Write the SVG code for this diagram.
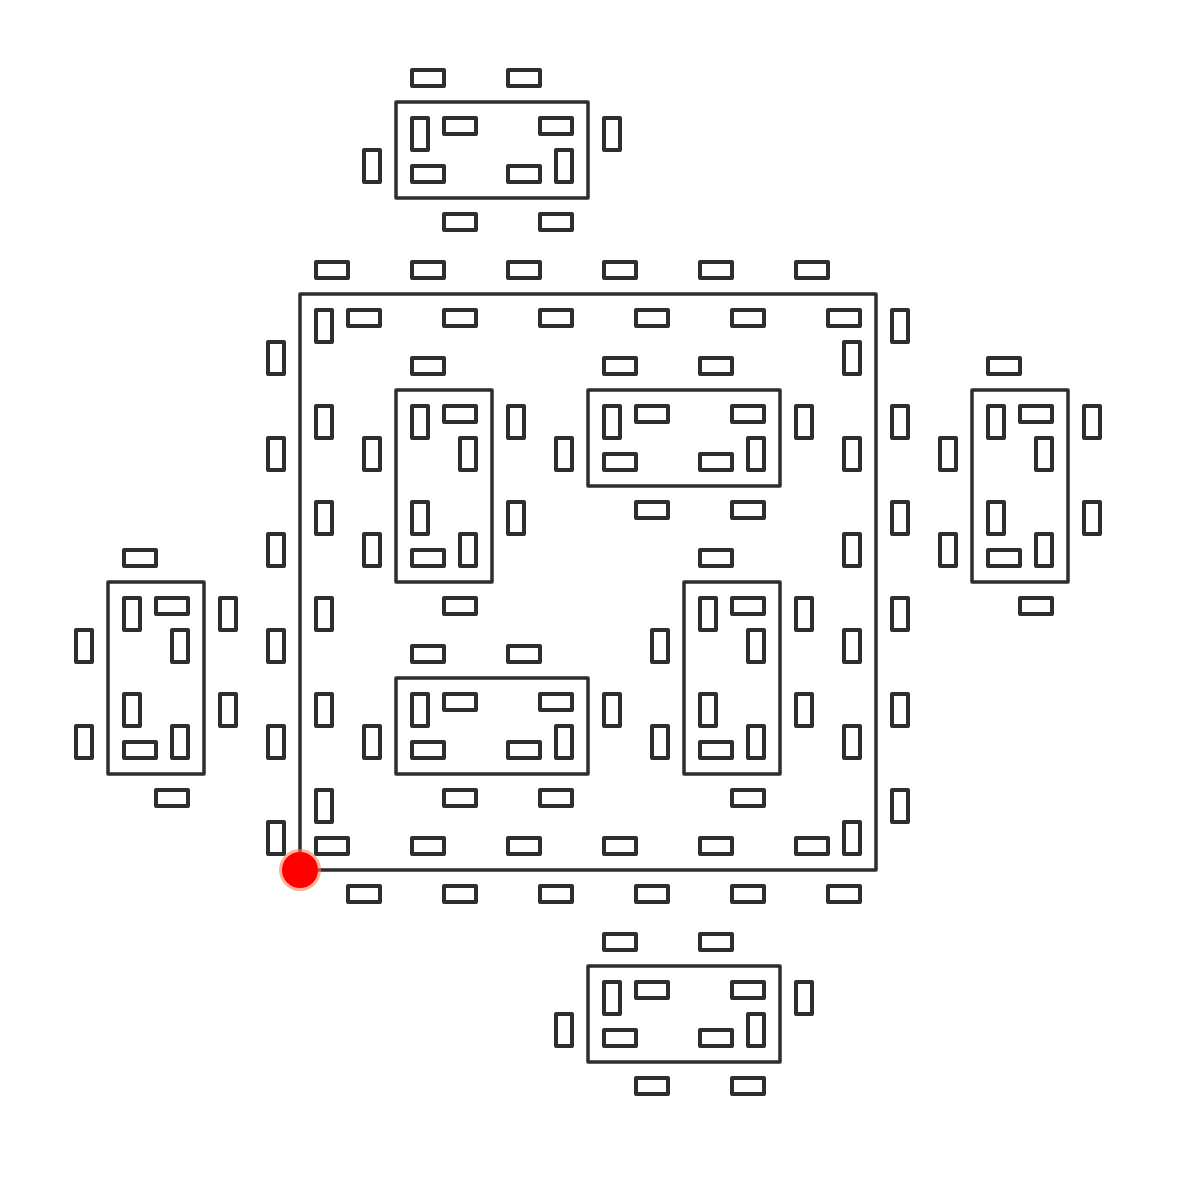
<svg xmlns="http://www.w3.org/2000/svg" xmlns:xlink="http://www.w3.org/1999/xlink" width="1200" height="1200" viewBox="0 0 1200 1200">
<style>
use { fill: none; stroke: #2e2e2e; stroke-width: 4; stroke-linejoin: round; }
.wall { fill: none; stroke: #2e2e2e; stroke-width: 3.5; stroke-linejoin: round; }
</style>
<defs>
<rect id="h" x="0" y="0" width="32" height="16"/>
<rect id="v" x="0" y="0" width="16" height="32"/>
</defs>
<rect x="0" y="0" width="1200" height="1200" style="fill:#fff;stroke:none"/>
<g id="top-cluster">
<rect class="wall" x="396" y="102" width="192" height="96"/>
<use href="#h" x="412" y="70"/><use href="#h" x="508" y="70"/>
<use href="#v" x="412" y="118"/><use href="#h" x="444" y="118"/><use href="#h" x="540" y="118"/>
<use href="#h" x="412" y="166"/><use href="#h" x="508" y="166"/><use href="#v" x="556" y="150"/>
<use href="#v" x="604" y="118"/><use href="#v" x="364" y="150"/>
<use href="#h" x="444" y="214"/><use href="#h" x="540" y="214"/>
</g>
<g id="main-square">
<rect class="wall" x="300" y="294" width="576" height="576"/>
<use href="#h" x="316" y="262"/><use href="#h" x="412" y="262"/><use href="#h" x="508" y="262"/><use href="#h" x="604" y="262"/><use href="#h" x="700" y="262"/><use href="#h" x="796" y="262"/>
<use href="#v" x="268" y="342"/><use href="#v" x="268" y="438"/><use href="#v" x="268" y="534"/><use href="#v" x="268" y="630"/><use href="#v" x="268" y="726"/><use href="#v" x="268" y="822"/>
<use href="#v" x="892" y="310"/><use href="#v" x="892" y="406"/><use href="#v" x="892" y="502"/><use href="#v" x="892" y="598"/><use href="#v" x="892" y="694"/><use href="#v" x="892" y="790"/>
<use href="#h" x="348" y="886"/><use href="#h" x="444" y="886"/><use href="#h" x="540" y="886"/><use href="#h" x="636" y="886"/><use href="#h" x="732" y="886"/><use href="#h" x="828" y="886"/>
<use href="#h" x="348" y="310"/><use href="#h" x="444" y="310"/><use href="#h" x="540" y="310"/><use href="#h" x="636" y="310"/><use href="#h" x="732" y="310"/><use href="#h" x="828" y="310"/>
<use href="#v" x="316" y="310"/><use href="#v" x="316" y="406"/><use href="#v" x="316" y="502"/><use href="#v" x="316" y="598"/><use href="#v" x="316" y="694"/><use href="#v" x="316" y="790"/>
<use href="#h" x="316" y="838"/><use href="#h" x="412" y="838"/><use href="#h" x="508" y="838"/><use href="#h" x="604" y="838"/><use href="#h" x="700" y="838"/><use href="#h" x="796" y="838"/>
<use href="#v" x="844" y="342"/><use href="#v" x="844" y="438"/><use href="#v" x="844" y="534"/><use href="#v" x="844" y="630"/><use href="#v" x="844" y="726"/><use href="#v" x="844" y="822"/>
</g>
<g id="inner-top-left">
<rect class="wall" x="396" y="390" width="96" height="192"/>
<use href="#h" x="412" y="358"/>
<use href="#v" x="412" y="406"/><use href="#h" x="444" y="406"/><use href="#v" x="460" y="438"/>
<use href="#v" x="412" y="502"/><use href="#h" x="412" y="550"/><use href="#v" x="460" y="534"/>
<use href="#v" x="508" y="406"/><use href="#v" x="508" y="502"/>
<use href="#v" x="364" y="438"/><use href="#v" x="364" y="534"/>
<use href="#h" x="444" y="598"/>
</g>
<g id="inner-top-right">
<rect class="wall" x="588" y="390" width="192" height="96"/>
<use href="#h" x="604" y="358"/><use href="#h" x="700" y="358"/>
<use href="#v" x="604" y="406"/><use href="#h" x="636" y="406"/><use href="#h" x="732" y="406"/>
<use href="#h" x="604" y="454"/><use href="#h" x="700" y="454"/><use href="#v" x="748" y="438"/>
<use href="#v" x="796" y="406"/><use href="#v" x="556" y="438"/>
<use href="#h" x="636" y="502"/><use href="#h" x="732" y="502"/>
</g>
<g id="inner-bottom-right">
<rect class="wall" x="684" y="582" width="96" height="192"/>
<use href="#h" x="700" y="550"/>
<use href="#v" x="700" y="598"/><use href="#h" x="732" y="598"/><use href="#v" x="748" y="630"/>
<use href="#v" x="700" y="694"/><use href="#h" x="700" y="742"/><use href="#v" x="748" y="726"/>
<use href="#v" x="796" y="598"/><use href="#v" x="796" y="694"/>
<use href="#v" x="652" y="630"/><use href="#v" x="652" y="726"/>
<use href="#h" x="732" y="790"/>
</g>
<g id="inner-bottom-left">
<rect class="wall" x="396" y="678" width="192" height="96"/>
<use href="#h" x="412" y="646"/><use href="#h" x="508" y="646"/>
<use href="#v" x="412" y="694"/><use href="#h" x="444" y="694"/><use href="#h" x="540" y="694"/>
<use href="#h" x="412" y="742"/><use href="#h" x="508" y="742"/><use href="#v" x="556" y="726"/>
<use href="#v" x="604" y="694"/><use href="#v" x="364" y="726"/>
<use href="#h" x="444" y="790"/><use href="#h" x="540" y="790"/>
</g>
<g id="right-cluster">
<rect class="wall" x="972" y="390" width="96" height="192"/>
<use href="#h" x="988" y="358"/>
<use href="#v" x="988" y="406"/><use href="#h" x="1020" y="406"/><use href="#v" x="1036" y="438"/>
<use href="#v" x="988" y="502"/><use href="#h" x="988" y="550"/><use href="#v" x="1036" y="534"/>
<use href="#v" x="1084" y="406"/><use href="#v" x="1084" y="502"/>
<use href="#v" x="940" y="438"/><use href="#v" x="940" y="534"/>
<use href="#h" x="1020" y="598"/>
</g>
<g id="left-cluster">
<rect class="wall" x="108" y="582" width="96" height="192"/>
<use href="#h" x="124" y="550"/>
<use href="#v" x="124" y="598"/><use href="#h" x="156" y="598"/><use href="#v" x="172" y="630"/>
<use href="#v" x="124" y="694"/><use href="#h" x="124" y="742"/><use href="#v" x="172" y="726"/>
<use href="#v" x="220" y="598"/><use href="#v" x="220" y="694"/>
<use href="#v" x="76" y="630"/><use href="#v" x="76" y="726"/>
<use href="#h" x="156" y="790"/>
</g>
<g id="bottom-cluster">
<rect class="wall" x="588" y="966" width="192" height="96"/>
<use href="#h" x="604" y="934"/><use href="#h" x="700" y="934"/>
<use href="#v" x="604" y="982"/><use href="#h" x="636" y="982"/><use href="#h" x="732" y="982"/>
<use href="#h" x="604" y="1030"/><use href="#h" x="700" y="1030"/><use href="#v" x="748" y="1014"/>
<use href="#v" x="796" y="982"/><use href="#v" x="556" y="1014"/>
<use href="#h" x="636" y="1078"/><use href="#h" x="732" y="1078"/>
</g>
<g id="marker">
<circle cx="300" cy="870" r="21" fill="#ff7a50" fill-opacity="0.6"/>
<circle cx="300" cy="870" r="18" fill="#ff0000"/>
</g>
</svg>
